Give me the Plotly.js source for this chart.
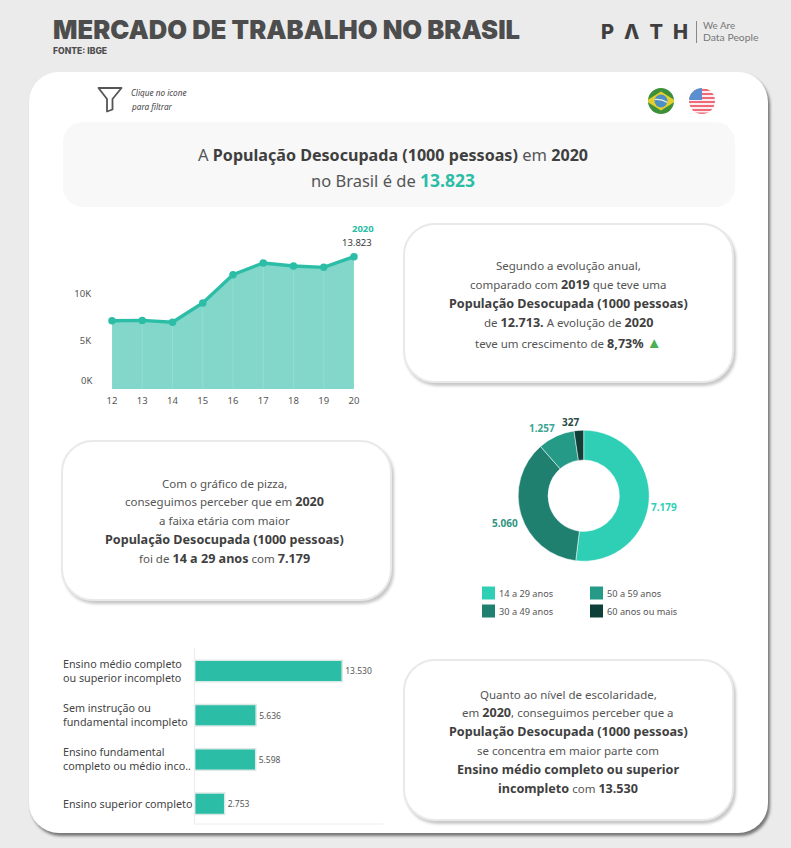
<!DOCTYPE html>
<html><head><meta charset="utf-8">
<script src="https://cdn.plot.ly/plotly-3.0.1.min.js"></script>
<style>
html,body{margin:0;padding:0;background:#ebebeb;width:791px;height:848px;overflow:hidden}
.c{position:absolute;box-sizing:border-box}
#main{left:29px;top:72px;width:739px;height:761px;background:#fff;border-radius:30px;box-shadow:2px 3px 3px rgba(0,0,0,.5)}
#banner{left:63px;top:122px;width:672px;height:85px;background:#f8f8f8;border-radius:20px}
.card{background:#fff;border-radius:32px;border:2px solid #e9e9e9;box-shadow:2px 3px 3px rgba(0,0,0,.22)}
#chart{position:absolute;left:0;top:0}
svg.i{position:absolute}
</style></head><body>
<div class="c" id="main"></div>
<div class="c" id="banner"></div>
<div class="c card" style="left:403px;top:223px;width:331px;height:160px"></div>
<div class="c card" style="left:61px;top:440px;width:331px;height:161px"></div>
<div class="c card" style="left:403px;top:659px;width:331px;height:162px"></div>
<svg class="i" style="left:96px;top:85px" width="28" height="28" viewBox="0 0 28 28"><path d="M2.5 3 H25.5 L16.5 14 V24.5 L11 26.5 V14 Z" fill="none" stroke="#555" stroke-width="1.8" stroke-linejoin="round"/></svg>
<svg class="i" style="left:647px;top:87px" width="28" height="28" viewBox="0 0 28 28"><defs><clipPath id="cb"><circle cx="14" cy="14" r="13"/></clipPath></defs><g clip-path="url(#cb)"><rect width="28" height="28" fill="#3d8f3a"/><path d="M-1 14 L14 4.5 L29 14 L14 23.5Z" fill="#e5cf2e"/><circle cx="14" cy="14" r="6.5" fill="#4e8fc4"/><path d="M7.6 12.5 Q14 11.5 20.4 15.5" stroke="#e8f0e0" stroke-width="1.2" fill="none"/></g></svg>
<svg class="i" style="left:688px;top:87px" width="28" height="28" viewBox="0 0 28 28"><defs><clipPath id="cu"><circle cx="14" cy="14" r="13"/></clipPath></defs><g clip-path="url(#cu)"><rect width="28" height="28" fill="#fbeef0"/><rect y="2" width="28" height="2" fill="#ee6a78"/><rect y="6" width="28" height="2" fill="#ee6a78"/><rect y="10" width="28" height="2" fill="#ee6a78"/><rect y="14" width="28" height="2" fill="#ee6a78"/><rect y="18" width="28" height="2" fill="#ee6a78"/><rect y="22" width="28" height="2" fill="#ee6a78"/><rect y="25.5" width="28" height="3" fill="#ee6a78"/><rect width="14" height="13" fill="#5b8fd0"/></g></svg>
<svg class="i" style="left:696px;top:21px" width="2" height="22"><rect width="1" height="22" fill="#888"/></svg>
<div id="chart"></div>
<script>
const W = 791, H = 848;
const FONT = '"Noto Sans", sans-serif';
const TEAL = '#2bbda6', DARK = '#3a3a3a', GREY = '#555555';

const years = [12, 13, 14, 15, 16, 17, 18, 19, 20];
const desocupada = [7130, 7170, 6970, 8990, 11950, 13170, 12850, 12713, 13823];
const yTicks = [5000, 10000];
const yTickText = ['5K', '10K'];

const ageGroups = ['14 a 29 anos', '30 a 49 anos', '50 a 59 anos', '60 anos ou mais'];
const ageValues = [7179, 5060, 1257, 327];
const ageLabels = ['7.179', '5.060', '1.257', '327'];
const ageColors = ['#2fcfb6', '#1f8070', '#259a87', '#0e3f38'];
const ageLabelColors = ['#2fcfb6', '#2f9382', '#3aa692', '#2c4a45'];

const eduGroups = ['Ensino médio completo<br>ou superior incompleto', 'Sem instrução ou<br>fundamental incompleto', 'Ensino fundamental<br>completo ou médio inco..', 'Ensino superior completo'];
const eduValues = [13530, 5636, 5598, 2753];
const eduLabels = ['13.530', '5.636', '5.598', '2.753'];

const B = s => '<b><span style="font-size:12.6px;color:#3f3f3f">' + s + '</span></b>';
const BB = s => '<b><span style="font-size:16.1px;color:#3f3f3f">' + s + '</span></b>';
const TRI = '<span style="color:#4caf50;font-size:15px">▲</span>';
const bannerLines = [
  'A ' + BB('População Desocupada (1000 pessoas)') + ' em ' + BB('2020'),
  'no Brasil é de <b><span style="color:#2bbda6;font-size:17.5px">13.823</span></b>'
];
const card1Lines = ['Segundo a evolução anual,', 'comparado com ' + B('2019') + ' que teve uma', B('População Desocupada (1000 pessoas)'), 'de ' + B('12.713.') + ' A evolução de ' + B('2020'), 'teve um crescimento de ' + B('8,73%') + ' ' + TRI];
const card2Lines = ['Com o gráfico de pizza,', 'conseguimos perceber que em ' + B('2020'), 'a faixa etária com maior', B('População Desocupada (1000 pessoas)'), 'foi de ' + B('14 a 29 anos') + ' com ' + B('7.179')];
const card3Lines = ['Quanto ao nível de escolaridade,', 'em ' + B('2020') + ', conseguimos perceber que a', B('População Desocupada (1000 pessoas)'), 'se concentra em maior parte com', B('Ensino médio completo ou superior'), B('incompleto') + ' com ' + B('13.530')];

const fx = x => x / W, fy = y => 1 - y / H;
function txt(text, x, y, o) {
  o = o || {};
  return {text: text, xref: 'paper', yref: 'paper', x: fx(x), y: fy(y), showarrow: false, borderpad: 0, borderwidth: 0,
    xanchor: o.anchor || 'center', yanchor: 'middle', align: o.anchor || 'center',
    font: {family: o.family || FONT, size: o.size || 12, color: o.color || GREY, weight: o.weight || 400, style: o.style || 'normal'}};
}
const ann = [];
ann.push(txt('MERCADO DE TRABALHO NO BRASIL', 53, 30, {anchor: 'left', size: 25.6, weight: 900, color: '#4d4d4d', family: 'Inter, sans-serif'}));
ann.push(txt('FONTE: IBGE', 53, 51, {anchor: 'left', size: 8.6, weight: 800, color: '#4d4d4d', family: 'Inter, sans-serif'}));
ann.push(txt('P\u2002Λ\u2002T\u2002H', 601, 32, {anchor: 'left', size: 20, weight: 800, color: '#3f3f3f', family: 'Inter, sans-serif'}));
ann.push(txt('We Are', 703, 25, {anchor: 'left', size: 9.8, color: '#777', family: 'Lato, sans-serif'}));
ann.push(txt('Data People', 703, 37, {anchor: 'left', size: 10.4, color: '#777', family: 'Lato, sans-serif'}));
ann.push(txt('Clique no icone', 131, 93, {anchor: 'left', size: 8.2, style: 'italic', color: '#444'}));
ann.push(txt('para filtrar', 131, 106, {anchor: 'left', size: 8.2, style: 'italic', color: '#444'}));

bannerLines.forEach((t, i) => ann.push(txt(t, 393, 155 + i * 25, {size: 16.5, color: '#555'})));
card1Lines.forEach((t, i) => ann.push(txt(t, 568, 265 + i * 19.3, {size: 11.5})));
card2Lines.forEach((t, i) => ann.push(txt(t, 224, 483 + i * 18.8, {size: 11.5})));
card3Lines.forEach((t, i) => ann.push(txt(t, 568, 694 + i * 18.8, {size: 11.5})));

// area chart labels anchored to the last data point
const last = years.length - 1;
ann.push({text: '<b>2020</b>', xref: 'x', yref: 'y', x: years[last], y: desocupada[last], xshift: 9, yshift: 28, showarrow: false, font: {family: FONT, size: 9.5, color: TEAL}});
ann.push({text: '13.823', xref: 'x', yref: 'y', x: years[last], y: desocupada[last], xshift: 3, yshift: 14, showarrow: false, font: {family: FONT, size: 9.5, color: DARK}});
ann.push({text: '0K', xref: 'paper', yref: 'y', x: fx(92), xanchor: 'right', borderpad: 0, borderwidth: 0, y: 0, yshift: 8, showarrow: false, font: {family: FONT, size: 9.5, color: GREY}});

// education category labels, left aligned
eduGroups.forEach((g, i) => ann.push({text: g, xref: 'paper', yref: 'y2', x: fx(63), xanchor: 'left', align: 'left', borderpad: 0, borderwidth: 0, y: i, showarrow: false, font: {family: FONT, size: 10.75, color: '#444'}}));

// pie value labels
const pieLabelX = [664, 505, 542, 570], pieLabelY = [507, 523, 428, 422];
ageLabels.forEach((l, i) => ann.push(txt('<b>' + l + '</b>', pieLabelX[i], pieLabelY[i], {size: 10, color: ageLabelColors[i]})));

// pie legend
const legX = [482, 482, 590, 590], legY = [593, 611, 593, 611];
const shapes = [];
ageGroups.forEach((g, i) => {
  shapes.push({type: 'rect', xref: 'paper', yref: 'paper', x0: fx(legX[i]), x1: fx(legX[i] + 13), y0: fy(legY[i] - 6.5), y1: fy(legY[i] + 6.5), fillcolor: ageColors[i], line: {width: 0}});
  ann.push(txt(g, legX[i] + 17, legY[i], {anchor: 'left', size: 9.2, color: GREY}));
});
// bar chart frame lines
shapes.push({type: 'line', xref: 'paper', yref: 'paper', x0: fx(194.5), x1: fx(194.5), y0: fy(648), y1: fy(824), line: {color: '#ececec', width: 1}});
shapes.push({type: 'line', xref: 'paper', yref: 'paper', x0: fx(194.5), x1: fx(383), y0: fy(824), y1: fy(824), line: {color: '#ececec', width: 1}});

const traces = [
  {type: 'scatter', mode: 'lines', x: years, y: desocupada, xaxis: 'x', yaxis: 'y', fill: 'tozeroy', fillcolor: '#82d7ca', line: {width: 0}, hoverinfo: 'skip'},
  {type: 'scatter', mode: 'markers', x: years, y: desocupada, xaxis: 'x', yaxis: 'y', marker: {size: 0.1, opacity: 0}, hoverinfo: 'skip',
    error_y: {type: 'data', symmetric: false, array: years.map(() => 0), arrayminus: desocupada, color: 'rgba(255,255,255,.14)', thickness: 1, width: 0}},
  {type: 'scatter', mode: 'lines+markers', x: years, y: desocupada, xaxis: 'x', yaxis: 'y', line: {color: TEAL, width: 3.4}, marker: {color: TEAL, size: 7.5}, cliponaxis: false},
  {type: 'pie', values: ageValues, labels: ageGroups, textinfo: 'none', sort: false, direction: 'clockwise', rotation: 0, hole: 0.545,
    marker: {colors: ageColors, line: {color: '#ffffff', width: 0.5}}, automargin: false,
    domain: {x: [fx(583.7 - 65.5), fx(583.7 + 65.5)], y: [fy(495.7 + 65.5), fy(495.7 - 65.5)]}},
  {type: 'bar', orientation: 'h', x: eduValues, y: eduGroups.map((g, i) => i), xaxis: 'x2', yaxis: 'y2', width: 0.49, text: eduLabels, textposition: 'outside', cliponaxis: false,
    textfont: {family: FONT, size: 8.5, color: GREY}, marker: {color: TEAL, line: {color: '#dbe9e6', width: 1.5}}}
];

const layout = {
  width: W, height: H, margin: {l: 0, r: 0, t: 0, b: 0}, showlegend: false, autosize: false,
  paper_bgcolor: 'rgba(0,0,0,0)', plot_bgcolor: 'rgba(0,0,0,0)', font: {family: FONT},
  bargap: 0.5,
  annotations: ann, shapes: shapes,
  xaxis: {domain: [fx(112), fx(354)], range: [12, 20], anchor: 'y', tickmode: 'array', tickvals: years, ticktext: years.map(String), showgrid: false, zeroline: false, showline: false,
    ticks: 'outside', ticklen: 3, tickcolor: 'rgba(0,0,0,0)', tickfont: {family: FONT, size: 9.5, color: GREY}},
  yaxis: {domain: [fy(389), fy(240)], range: [0, 15570], anchor: 'x', tickmode: 'array', tickvals: yTicks, ticktext: yTickText, showgrid: false, zeroline: false, showline: false,
    ticks: 'outside', ticklen: 18, tickcolor: 'rgba(0,0,0,0)', tickfont: {family: FONT, size: 9.5, color: GREY}},
  xaxis2: {domain: [fx(194.7), fx(383)], range: [0, 17275], anchor: 'y2', visible: false},
  yaxis2: {domain: [fy(824), fy(648.85)], range: [3.458, -0.5], anchor: 'x2', visible: false}
};
Plotly.newPlot('chart', traces, layout, {displayModeBar: false});
</script>
</body></html>
